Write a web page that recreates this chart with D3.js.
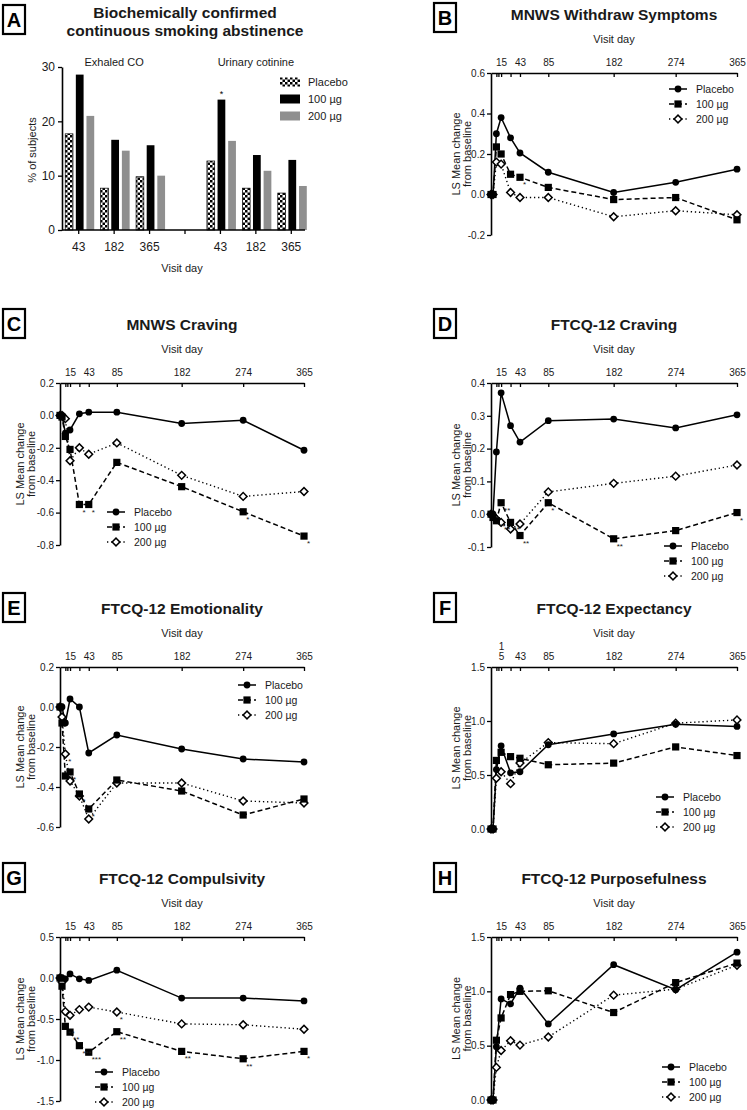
<!DOCTYPE html>
<html>
<head>
<meta charset="utf-8">
<script src="https://cdn.jsdelivr.net/npm/d3@7"></script>
<style>
    body { margin: 0; background: #fff; }
    svg { display: block; font-family: "Liberation Sans", Arial, sans-serif; }
</style>
</head>
<body>
<div id="figure"></div>
<script>
//*************************1. Data

// visit days shared by all line panels
const visitDays = [0, 3, 8, 15, 29, 43, 85, 182, 274, 365]
const labeledDays = [15, 43, 85, 182, 274, 365]
const minorDays = [8, 11, 29]
const doseGroups = ["Placebo", "100 µg", "200 µg"]

// A - abstinence bars (% of subjects)
const barVisits = ["43", "182", "365"]
const coPlacebo = [17.7, 7.7, 9.8]
const co100 = [28.6, 16.6, 15.6]
const co200 = [21.0, 14.6, 10.0]
const cotininePlacebo = [12.7, 7.7, 6.8]
const cotinine100 = [24.0, 13.8, 12.9]
const cotinine200 = [16.4, 10.9, 8.1]

// B - MNWS withdraw symptoms
const withdrawPlacebo = [0, 0, 0.30, 0.38, 0.28, 0.205, 0.11, 0.01, 0.06, 0.125]
const withdraw100 = [0, 0, 0.235, 0.20, 0.10, 0.085, 0.035, -0.025, -0.015, -0.125]
const withdraw200 = [0, 0, 0.16, 0.15, 0.01, -0.015, -0.015, -0.11, -0.08, -0.10]

// C - MNWS craving
const mnwsCravePlacebo = [0, 0, -0.11, -0.09, 0.01, 0.02, 0.02, -0.05, -0.03, -0.215]
const mnwsCrave100 = [0, -0.01, -0.13, -0.21, -0.55, -0.55, -0.29, -0.44, -0.595, -0.745]
const mnwsCrave200 = [0, 0, -0.02, -0.28, -0.20, -0.24, -0.17, -0.37, -0.50, -0.47]

// D - FTCQ-12 craving
const ftcqCravePlacebo = [0, 0, 0.19, 0.37, 0.27, 0.22, 0.285, 0.29, 0.263, 0.303]
const ftcqCrave100 = [0, -0.01, -0.02, 0.035, -0.025, -0.065, 0.035, -0.075, -0.05, 0.005]
const ftcqCrave200 = [0, -0.005, -0.015, -0.025, -0.045, -0.03, 0.068, 0.094, 0.116, 0.15]

// E - FTCQ-12 emotionality
const emotionPlacebo = [0, 0, -0.08, 0.04, 0.0, -0.23, -0.14, -0.21, -0.26, -0.275]
const emotion100 = [0, -0.08, -0.345, -0.325, -0.435, -0.51, -0.365, -0.42, -0.54, -0.46]
const emotion200 = [0, -0.05, -0.235, -0.37, -0.445, -0.56, -0.38, -0.38, -0.47, -0.48]

// F - FTCQ-12 expectancy
const expectPlacebo = [0, 0, 0.55, 0.77, 0.52, 0.53, 0.78, 0.88, 0.97, 0.95]
const expect100 = [0, 0, 0.635, 0.71, 0.67, 0.655, 0.595, 0.61, 0.76, 0.68]
const expect200 = [0, 0, 0.47, 0.53, 0.42, 0.61, 0.80, 0.79, 0.98, 1.01]

// G - FTCQ-12 compulsivity
const compulsPlacebo = [0, 0, -0.01, 0.05, -0.01, -0.03, 0.095, -0.245, -0.245, -0.28]
const compuls100 = [0, -0.1, -0.59, -0.66, -0.825, -0.905, -0.655, -0.895, -0.985, -0.895]
const compuls200 = [0, -0.05, -0.41, -0.455, -0.385, -0.355, -0.415, -0.56, -0.57, -0.625]

// H - FTCQ-12 purposefulness
const purposePlacebo = [0, 0, 0.49, 0.93, 0.885, 1.03, 0.70, 1.245, 1.015, 1.36]
const purpose100 = [0, 0, 0.55, 0.755, 0.97, 1.0, 1.005, 0.805, 1.08, 1.26]
const purpose200 = [0, 0, 0.30, 0.455, 0.545, 0.505, 0.58, 0.965, 1.02, 1.24]

// significance marks: panel, dose group index, visit day, mark
const starNotes = [
    ["B", 1, 43, "*"],
    ["C", 1, 29, "*"], ["C", 1, 43, "*"], ["C", 1, 274, "*"], ["C", 1, 365, "*"],
    ["D", 1, 15, "**"], ["D", 1, 29, "**"], ["D", 1, 43, "**"], ["D", 1, 85, "*"],
    ["D", 1, 182, "**"], ["D", 1, 365, "*"],
    ["D", 2, 8, "**"], ["D", 2, 15, "**"],
    ["E", 1, 15, "*"], ["E", 1, 29, "*"], ["E", 1, 43, "*"], ["E", 2, 8, "*"],
    ["G", 1, 8, "**"], ["G", 1, 15, "**"], ["G", 1, 29, "***"], ["G", 1, 43, "***"],
    ["G", 1, 85, "**"], ["G", 1, 182, "**"], ["G", 1, 274, "**"], ["G", 1, 365, "*"],
    ["G", 2, 8, "*"], ["G", 2, 85, "*"]
]

//*************************2. Layout

const textColor = "#1a1a1a"
const columns = [
    { left: 60, right: 304, box: 3, yLab: [20, 31] },
    { left: 491, right: 737, box: 434, yLab: [456, 467] }
]

const panels = [
    { id: "B", title: "MNWS Withdraw Symptoms", series: [withdrawPlacebo, withdraw100, withdraw200],
      yMin: -0.2, yMax: 0.6, yStep: 0.2, col: 1, top: 73, bottom: 235, legend: [669, 89] },
    { id: "C", title: "MNWS Craving", series: [mnwsCravePlacebo, mnwsCrave100, mnwsCrave200],
      yMin: -0.8, yMax: 0.2, yStep: 0.2, col: 0, top: 383, bottom: 545, legend: [107, 512] },
    { id: "D", title: "FTCQ-12 Craving", series: [ftcqCravePlacebo, ftcqCrave100, ftcqCrave200],
      yMin: -0.1, yMax: 0.4, yStep: 0.1, col: 1, top: 383, bottom: 547, legend: [664, 546] },
    { id: "E", title: "FTCQ-12 Emotionality", series: [emotionPlacebo, emotion100, emotion200],
      yMin: -0.6, yMax: 0.2, yStep: 0.2, col: 0, top: 667, bottom: 827, legend: [238, 685] },
    { id: "F", title: "FTCQ-12 Expectancy", series: [expectPlacebo, expect100, expect200],
      yMin: 0, yMax: 1.5, yStep: 0.5, col: 1, top: 667, bottom: 829, legend: [656, 797], wrapFirst: true },
    { id: "G", title: "FTCQ-12 Compulsivity", series: [compulsPlacebo, compuls100, compuls200],
      yMin: -1.5, yMax: 0.5, yStep: 0.5, col: 0, top: 937, bottom: 1101, legend: [95, 1072] },
    { id: "H", title: "FTCQ-12 Purposefulness", series: [purposePlacebo, purpose100, purpose200],
      yMin: 0, yMax: 1.5, yStep: 0.5, col: 1, top: 937, bottom: 1100, legend: [662, 1067] }
]

const svg = d3.select("#figure")
    .append("svg")
    .attr("width", 747)
    .attr("height", 1110)

const defs = svg.append("defs")
const checker = defs.append("pattern")
    .attr("id", "checker")
    .attr("patternUnits", "userSpaceOnUse")
    .attr("width", 5)
    .attr("height", 5)
checker.append("rect").attr("width", 5).attr("height", 5).attr("fill", "#fff")
checker.append("rect").attr("width", 2.5).attr("height", 2.5).attr("fill", "#000")
checker.append("rect").attr("x", 2.5).attr("y", 2.5).attr("width", 2.5).attr("height", 2.5).attr("fill", "#000")

const doseFill = ["url(#checker)", "#000", "#8f8f8f"]
const doseDash = [null, "5,3", "1.3,2.8"]

function panelBox(x, y, label) {
    svg.append("rect")
        .attr("x", x).attr("y", y)
        .attr("width", 22).attr("height", 29)
        .attr("fill", "none").attr("stroke", "#000").attr("stroke-width", 2.2)
    svg.append("text")
        .attr("x", x + 11).attr("y", y + 14.5).attr("dy", "0.35em")
        .attr("text-anchor", "middle")
        .attr("font-size", 20).attr("font-weight", "bold")
        .text(label)
}

function centerText(x, y, txt, size, bold) {
    return svg.append("text")
        .attr("x", x).attr("y", y).attr("dy", "0.35em")
        .attr("text-anchor", "middle")
        .attr("font-size", size)
        .attr("font-weight", bold ? "bold" : "normal")
        .attr("fill", textColor)
        .text(txt)
}

function styleAxis(g) {
    g.selectAll(".domain").attr("stroke", "#000").attr("stroke-width", 1.6)
    g.selectAll(".tick line").attr("stroke", "#000").attr("stroke-width", 1.3)
    g.selectAll(".tick text").attr("fill", textColor)
}

function drawMarker(sel, gi) {
    if (gi === 0) {
        sel.append("circle").attr("r", 3.4).attr("fill", "#000")
    } else if (gi === 1) {
        sel.append("rect").attr("x", -3.6).attr("y", -3.6)
            .attr("width", 7.2).attr("height", 7.2).attr("fill", "#000")
    } else {
        sel.append("path")
            .attr("d", d3.symbol(d3.symbolSquare, 30)())
            .attr("transform", "rotate(45)")
            .attr("fill", "#fff").attr("stroke", "#000").attr("stroke-width", 1.5)
    }
}

//*************************3. Panel A - bars

panelBox(3, 5, "A")
centerText(185, 13, "Biochemically confirmed", 15.5, true)
centerText(185, 31, "continuous smoking abstinence", 15.5, true)

const slots = barVisits.map(v => "CO " + v)
    .concat(["gap"])
    .concat(barVisits.map(v => "cot " + v))

const barX = d3.scaleBand()
    .domain(slots)
    .range([61, 309])

const doseX = d3.scaleBand()
    .domain(doseGroups)
    .range([-13.5, 15.5])
    .paddingInner(0.27)

const barY = d3.scaleLinear()
    .domain([0, 30])
    .range([230, 67])

const barRows = []
const coSets = [coPlacebo, co100, co200]
const cotSets = [cotininePlacebo, cotinine100, cotinine200]
barVisits.forEach((v, i) => {
    doseGroups.forEach((g, gi) => {
        barRows.push({ slot: "CO " + v, gi, g, value: coSets[gi][i] })
        barRows.push({ slot: "cot " + v, gi, g, value: cotSets[gi][i] })
    })
})

svg.append("g")
    .selectAll("rect")
    .data(barRows)
    .join("rect")
    .attr("x", d => barX(d.slot) + barX.bandwidth() / 2 + doseX(d.g))
    .attr("y", d => barY(d.value))
    .attr("width", doseX.bandwidth())
    .attr("height", d => barY(0) - barY(d.value))
    .attr("fill", d => doseFill[d.gi])
    .attr("stroke", d => d.gi === 0 ? "#000" : "none")
    .attr("stroke-width", 0.7)

// significance mark over urinary cotinine day 43, 100 ug
const starBar = barRows.find(d => d.slot === "cot 43" && d.gi === 1)
svg.append("text")
    .attr("x", barX(starBar.slot) + barX.bandwidth() / 2 + doseX(starBar.g) + doseX.bandwidth() / 2)
    .attr("y", barY(starBar.value) - 3)
    .attr("text-anchor", "middle")
    .attr("font-size", 9)
    .text("*")

const barAxisY = svg.append("g")
    .attr("transform", "translate(62,0)")
    .call(d3.axisLeft(barY).tickValues([0, 10, 20, 30]).tickSize(4).tickPadding(3).tickSizeOuter(0))
barAxisY.selectAll("text").attr("font-size", 12)
styleAxis(barAxisY)

const barAxisX = svg.append("g")
    .attr("transform", "translate(0,230)")
    .call(d3.axisBottom(barX)
        .tickSize(4).tickPadding(8).tickSizeOuter(0)
        .tickFormat(d => d === "gap" ? "" : d.split(" ")[1]))
barAxisX.selectAll("text").attr("font-size", 12)
styleAxis(barAxisX)
barAxisX.select(".domain").attr("d", "M62,0H305")

const coMid = (barX("CO 43") + barX("CO 365") + barX.bandwidth()) / 2
const cotMid = (barX("cot 43") + barX("cot 365") + barX.bandwidth()) / 2
centerText(coMid, 62, "Exhaled CO", 11)
centerText(cotMid, 62, "Urinary cotinine", 11)
centerText(182, 268, "Visit day", 11)
centerText(0, 0, "% of subjects", 11)
    .attr("transform", "translate(32,150) rotate(-90)")

const barLegend = svg.append("g")
    .selectAll("g")
    .data(doseGroups)
    .join("g")
    .attr("transform", (d, i) => `translate(280,${82 + i * 17})`)
barLegend.append("rect")
    .attr("x", 0).attr("y", -4.5)
    .attr("width", 20).attr("height", 9)
    .attr("fill", (d, i) => doseFill[i])
barLegend.append("text")
    .attr("x", 28).attr("dy", "0.35em")
    .attr("font-size", 11)
    .attr("fill", textColor)
    .text(d => d)

//*************************4. Line panels

panels.forEach(p => {
    const col = columns[p.col]

    const x = d3.scaleLinear()
        .domain([0, 365])
        .range([col.left, col.right])

    const y = d3.scaleLinear()
        .domain([p.yMin, p.yMax])
        .range([p.bottom, p.top])

    panelBox(col.box, Math.max(3, p.top - 74), p.id)
    centerText((col.left + col.right) / 2, p.top - 58.5, p.title, 15.5, true)
    centerText((col.left + col.right) / 2, p.top - 34, "Visit day", 11)

    const yTitle = svg.append("text")
        .attr("transform", `translate(${col.yLab[0]},${(p.top + p.bottom) / 2}) rotate(-90)`)
        .attr("text-anchor", "middle")
        .attr("font-size", 11)
        .attr("fill", textColor)
    yTitle.append("tspan").attr("x", 0).attr("dy", "0.35em").text("LS Mean change")
    yTitle.append("tspan").attr("x", 0).attr("dy", "1.05em").text("from baseline")

    // top axis with ticks pointing into the plot
    const tickDays = minorDays.concat(labeledDays).sort((a, b) => a - b)
    const xAxis = svg.append("g")
        .attr("transform", `translate(0,${p.top})`)
        .call(d3.axisTop(x)
            .tickValues(tickDays)
            .tickSizeInner(-4)
            .tickSizeOuter(0)
            .tickPadding(7)
            .tickFormat(d => labeledDays.includes(d) ? d : ""))
    xAxis.selectAll("text").attr("font-size", 10)
    styleAxis(xAxis)
    if (p.wrapFirst) {
        const first = xAxis.selectAll(".tick text").filter(d => d === 15)
        first.text("")
        first.append("tspan").attr("x", 0).attr("dy", "-1.05em").text("1")
        first.append("tspan").attr("x", 0).attr("dy", "1.05em").text("5")
    }

    const yTicks = d3.range(p.yMin, p.yMax + p.yStep / 2, p.yStep)
    const yAxis = svg.append("g")
        .attr("transform", `translate(${col.left},0)`)
        .call(d3.axisLeft(y)
            .tickValues(yTicks)
            .tickSize(4)
            .tickPadding(2)
            .tickSizeOuter(0)
            .tickFormat(d => (Math.abs(d) < 1e-9 ? 0 : d).toFixed(1)))
    yAxis.selectAll("text").attr("font-size", 10)
    styleAxis(yAxis)

    const line = d3.line()
        .x(d => x(d.day))
        .y(d => y(d.value))

    const seriesRows = p.series.map(vals => vals.map((v, i) => ({ day: visitDays[i], value: v })))
    const order = [2, 1, 0]

    order.forEach(gi => {
        svg.append("path")
            .datum(seriesRows[gi])
            .attr("d", line)
            .attr("fill", "none")
            .attr("stroke", "#000")
            .attr("stroke-width", gi === 2 ? 1.4 : 1.5)
            .attr("stroke-dasharray", doseDash[gi])
    })

    order.forEach(gi => {
        svg.append("g")
            .selectAll("g")
            .data(seriesRows[gi])
            .join("g")
            .attr("transform", d => `translate(${x(d.day)},${y(d.value)})`)
            .call(sel => drawMarker(sel, gi))
    })

    starNotes.filter(s => s[0] === p.id).forEach(s => {
        const v = p.series[s[1]][visitDays.indexOf(s[2])]
        svg.append("text")
            .attr("x", x(s[2]) + 3)
            .attr("y", y(v) + 10)
            .attr("font-size", 8)
            .attr("fill", textColor)
            .text(s[3])
    })

    // legend
    const lg = svg.append("g")
        .selectAll("g")
        .data(doseGroups)
        .join("g")
        .attr("transform", (d, i) => `translate(${p.legend[0]},${p.legend[1] + i * 15})`)
    lg.append("line")
        .attr("x1", 0).attr("x2", 18)
        .attr("stroke", "#000")
        .attr("stroke-width", 1.5)
        .attr("stroke-dasharray", (d, i) => doseDash[i])
    lg.each(function (d, i) {
        drawMarker(d3.select(this).append("g").attr("transform", "translate(9,0)"), i)
    })
    lg.append("text")
        .attr("x", 27).attr("dy", "0.35em")
        .attr("font-size", 10.5)
        .attr("fill", textColor)
        .text(d => d)
})
</script>
</body>
</html>
